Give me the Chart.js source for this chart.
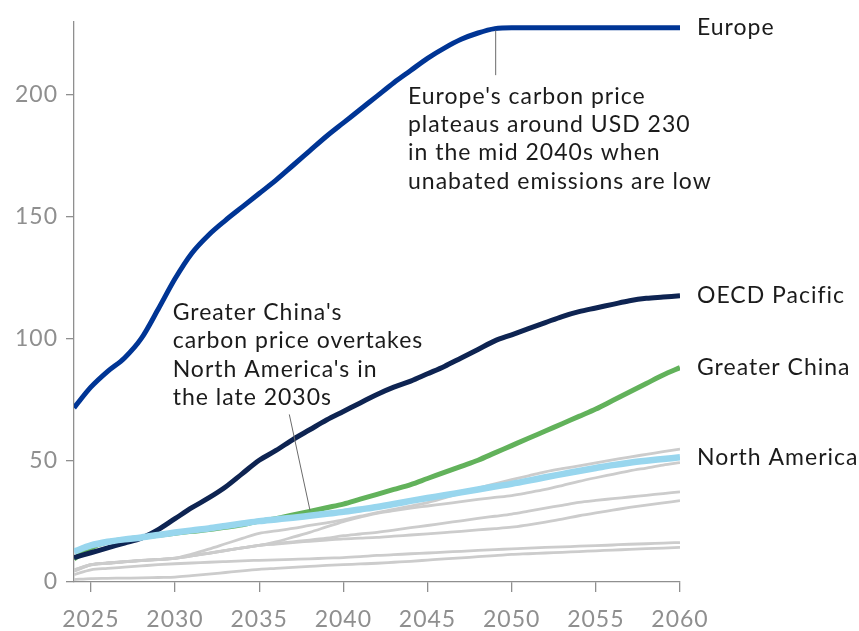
<!DOCTYPE html>
<html>
<head>
<meta charset="utf-8">
<script src="https://cdn.jsdelivr.net/npm/chart.js@4.4.1/dist/chart.umd.min.js"></script>
<style>
  html, body { margin: 0; padding: 0; background: #ffffff; }
  #wrap { width: 859px; height: 631px; position: relative; }
</style>
</head>
<body>
<div id="wrap"><canvas id="chart"></canvas></div>
<script>
// Carbon price by region, USD per tonne CO2
const years = [2024, 2025, 2026, 2027, 2028, 2029, 2030, 2031, 2032, 2033, 2034, 2035, 2036,
  2037, 2038, 2039, 2040, 2041, 2042, 2043, 2044, 2045, 2046, 2047, 2048, 2049, 2050,
  2051, 2052, 2053, 2054, 2055, 2056, 2057, 2058, 2059, 2060];

const europe = [71.5, 80, 86.5, 92, 100, 112, 124.5, 135, 142.5, 148.5, 154, 159.5, 165,
  171, 177, 183, 188.5, 194, 199.5, 205, 210, 215, 219.2, 222.8, 225.4, 227.2, 227.6,
  227.6, 227.6, 227.6, 227.6, 227.6, 227.6, 227.6, 227.6, 227.6, 227.6];

const oecdPacific = [10, 12, 14, 16, 18, 21.5, 26, 30.5, 34.5, 39, 44.5, 50, 54,
  58.5, 62.5, 66.5, 70, 73.5, 77, 80, 82.5, 85.5, 88.5, 92, 95.5, 99, 101.5,
  104, 106.5, 109, 111, 112.5, 114, 115.5, 116.5, 117, 117.5];

const greaterChina = [9.5, 14, 16.5, 17.5, 18.3, 19.2, 20, 20.8, 21.5, 22.5, 23.5, 25, 26,
  27.5, 29, 30.5, 32, 34, 36, 38, 40, 42.5, 45, 47.5, 50, 53, 56,
  59, 62, 65, 68, 71, 74.5, 78, 81.5, 85, 88];

const northAmerica = [12.5, 15, 16.5, 17.5, 18.3, 19.3, 20.3, 21.2, 22, 23, 24, 25, 25.7,
  26.4, 27.2, 28, 28.8, 29.8, 30.8, 32, 33.3, 34.5, 35.6, 36.8, 38, 39.2, 40.3,
  41.6, 43, 44.3, 45.6, 46.8, 48, 49, 49.8, 50.5, 51.2];

// Remaining regions, shown as context lines
const otherA = [5, 7.1, 7.8, 8.4, 8.9, 9.3, 9.8, 11.5, 13.5, 15.7, 17.9, 20, 21,
  22, 23.2, 24.3, 25.5, 27, 28.5, 29.8, 31.2, 32.6, 34.5, 36.5, 38.5, 40.3, 42,
  43.6, 45.2, 46.5, 47.7, 48.9, 50.1, 51.3, 52.4, 53.5, 54.6];
const otherB = [5, 7.1, 7.8, 8.4, 8.9, 9.3, 9.8, 10.8, 11.9, 13, 14, 15, 16.5,
  18.4, 20.4, 22.6, 24.8, 26.6, 28.2, 29.3, 30.3, 31.2, 32.1, 33, 33.9, 34.7, 35.5,
  36.7, 38, 39.6, 41.3, 42.8, 44.2, 45.6, 46.8, 48, 49];
const otherC = [4.5, 7, 7.7, 8.3, 8.8, 9.2, 9.7, 10.7, 11.8, 12.9, 14, 15, 15.8,
  16.5, 17.2, 18, 19, 19.7, 20.4, 21.3, 22.3, 23.2, 24.2, 25.1, 26.1, 27, 27.9,
  29.1, 30.3, 31.5, 32.7, 33.5, 34.2, 34.9, 35.6, 36.3, 37];
const otherD = [4.5, 7, 7.7, 8.3, 8.8, 9.2, 9.7, 10.7, 11.8, 12.9, 14, 15, 15.6,
  16.2, 16.7, 17.2, 17.7, 18, 18.3, 18.8, 19.3, 19.8, 20.3, 20.8, 21.4, 21.9, 22.5,
  23.5, 24.6, 25.8, 27.2, 28.4, 29.5, 30.6, 31.6, 32.5, 33.4];
const otherE = [3, 5, 5.6, 6.1, 6.6, 7.1, 7.5, 7.8, 8.1, 8.4, 8.7, 8.9, 9.1,
  9.3, 9.5, 9.8, 10, 10.4, 10.9, 11.2, 11.6, 11.9, 12.3, 12.6, 13, 13.3, 13.6,
  13.9, 14.2, 14.4, 14.7, 14.9, 15.2, 15.5, 15.7, 16, 16.2];
const otherF = [1, 1.4, 1.5, 1.6, 1.7, 1.85, 2, 2.6, 3.2, 3.9, 4.6, 5.2, 5.6,
  6, 6.4, 6.8, 7.1, 7.4, 7.7, 8.1, 8.5, 9, 9.5, 9.9, 10.4, 10.8, 11.3,
  11.6, 11.9, 12.2, 12.5, 12.8, 13.1, 13.4, 13.7, 13.9, 14.2];

const xTicks = [2025, 2030, 2035, 2040, 2045, 2050, 2055, 2060];
const yTicks = [0, 50, 100, 150, 200];

const FONT = 'Lato, "Open Sans", sans-serif';
const AXIS_GREY = '#8f8f8f';
const TEXT = '#1b1b1b';
const SPACING = '1px';

// Callouts placed in data coordinates
const notes = [
  { lines: ["Europe's carbon price", 'plateaus around USD 230', 'in the mid 2040s when', 'unabated emissions are low'],
    x: 2043.84, y: 196.3, leader: [[2049.05, 226.5], [2049.05, 208.1]] },
  { lines: ["Greater China's", 'carbon price overtakes', "North America's in", 'the late 2030s'],
    x: 2029.86, y: 107.5, leader: [[2036.79, 68.8], [2038.02, 29.4]] }
];

const pts = arr => arr.map((v, i) => ({ x: years[i], y: v }));

function series(label, data, color, width, endLabel) {
  return {
    label, data: pts(data), borderColor: color, backgroundColor: color,
    borderWidth: width, pointRadius: 0, pointHoverRadius: 0,
    cubicInterpolationMode: 'monotone', fill: false, endLabel,
    borderCapStyle: 'butt', borderJoinStyle: 'round'
  };
}

// First dataset is painted last (on top)
const datasets = [
  series('Europe', europe, '#003595', 5, true),
  series('North America', northAmerica, '#98d6ee', 6.5, true),
  series('OECD Pacific', oecdPacific, '#0e2452', 5, true),
  series('Greater China', greaterChina, '#62b25b', 5, true),
  series('Other A', otherA, '#cccccc', 2.8, false),
  series('Other B', otherB, '#cccccc', 2.8, false),
  series('Other C', otherC, '#cccccc', 2.8, false),
  series('Other D', otherD, '#cccccc', 2.8, false),
  series('Other E', otherE, '#cccccc', 2.8, false),
  series('Other F', otherF, '#cccccc', 2.8, false)
];

const spacingPlugin = {
  id: 'spacing',
  beforeDraw(chart) { chart.ctx.letterSpacing = SPACING; }
};

const labelPlugin = {
  id: 'labels',
  afterDatasetsDraw(chart) {
    const { ctx, chartArea, scales: { x, y } } = chart;
    ctx.save();
    ctx.letterSpacing = SPACING;
    ctx.fillStyle = TEXT;
    ctx.font = '23px ' + FONT;

    // Series names at the right-hand end of each highlighted line
    ctx.textAlign = 'left';
    ctx.textBaseline = 'middle';
    chart.data.datasets.forEach(ds => {
      if (!ds.endLabel) return;
      const last = ds.data[ds.data.length - 1];
      ctx.fillText(ds.label, chartArea.right + 17, y.getPixelForValue(last.y));
    });

    // Callout text and leader lines
    ctx.textBaseline = 'alphabetic';
    notes.forEach(n => {
      const px = x.getPixelForValue(n.x);
      const py = y.getPixelForValue(n.y);
      n.lines.forEach((t, i) => ctx.fillText(t, px, py + i * 28.3));
      ctx.beginPath();
      ctx.strokeStyle = '#6b6b6b';
      ctx.lineWidth = 1;
      ctx.moveTo(x.getPixelForValue(n.leader[0][0]), y.getPixelForValue(n.leader[0][1]));
      ctx.lineTo(x.getPixelForValue(n.leader[1][0]), y.getPixelForValue(n.leader[1][1]));
      ctx.stroke();
    });
    ctx.restore();
  }
};

new Chart(document.getElementById('chart'), {
  type: 'line',
  data: { datasets },
  options: {
    responsive: true,
    maintainAspectRatio: false,
    animation: false,
    events: [],
    layout: { padding: { top: 18, right: 179, left: 0, bottom: 0 } },
    plugins: { legend: { display: false }, tooltip: { enabled: false } },
    scales: {
      x: {
        type: 'linear', min: 2024, max: 2060,
        afterBuildTicks: s => { s.ticks = xTicks.map(v => ({ value: v })); },
        afterFit: s => { s.height = 49; },
        grid: { display: true, drawOnChartArea: false, drawTicks: true, tickLength: 10, color: AXIS_GREY, lineWidth: 1.3 },
        border: { display: true, color: AXIS_GREY, width: 1.3 },
        ticks: { color: AXIS_GREY, font: { family: FONT, size: 23 }, padding: 14, maxRotation: 0, autoSkip: false,
                 callback: v => String(v) }
      },
      y: {
        type: 'linear', min: 0, max: 230,
        afterBuildTicks: s => { s.ticks = yTicks.map(v => ({ value: v })); },
        afterFit: s => { s.width = 74; },
        grid: { display: true, drawOnChartArea: false, drawTicks: true, tickLength: 8, color: AXIS_GREY, lineWidth: 1.3 },
        border: { display: true, color: AXIS_GREY, width: 1.3 },
        ticks: { color: AXIS_GREY, font: { family: FONT, size: 23 }, padding: 8, callback: v => String(v) }
      }
    }
  },
  plugins: [spacingPlugin, labelPlugin]
});
</script>
</body>
</html>
